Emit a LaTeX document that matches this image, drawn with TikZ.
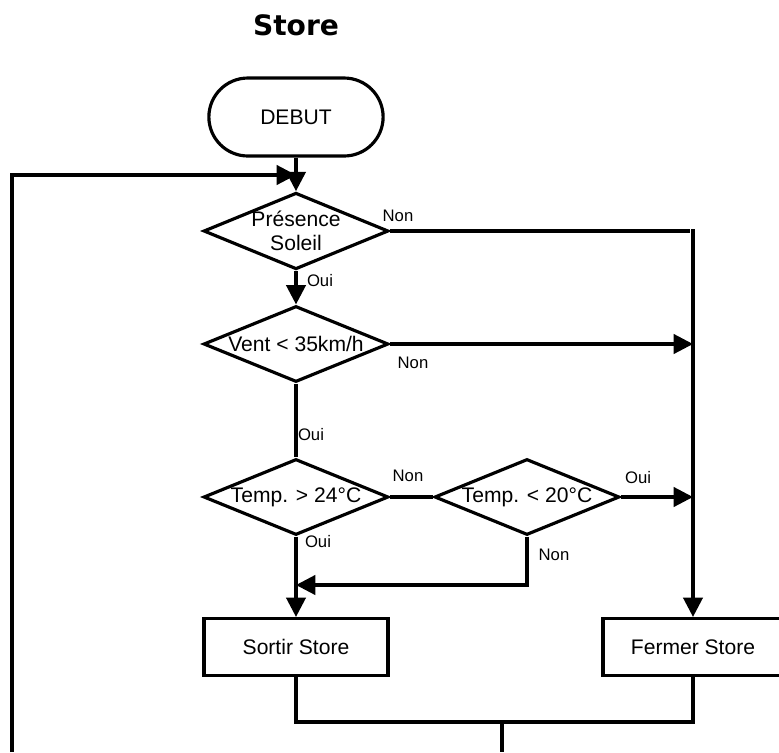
\documentclass[tikz,border=0pt]{standalone}
\usepackage{fontspec}
\usepackage{tikz}
\usetikzlibrary{arrows.meta,shapes.geometric,shapes.misc,positioning}
\setmainfont{Liberation Sans}
\newfontfamily\titlefont{DejaVu Sans}
\newcommand{\mainfs}{\fontsize{12}{13.5}\selectfont}
\newcommand{\lblfs}{\fontsize{9.5}{11}\selectfont}

\begin{document}
\begin{tikzpicture}[x=0.02cm, y=-0.02cm,
    wire/.style={line width=1.8pt},
    arr/.style={wire, -{Triangle[length=11pt,width=11pt]}},
    term/.style={rounded rectangle, draw, line width=1.8pt, minimum width=3.72cm, minimum height=1.56cm, font=\mainfs},
    test/.style={diamond, draw, line width=1.8pt, shape aspect=2.4, inner sep=0pt, minimum width=3.7cm, minimum height=1.52cm, align=center, font=\mainfs},
    act/.style={rectangle, draw, line width=1.8pt, minimum width=3.68cm, minimum height=1.14cm, font=\mainfs},
    lbl/.style={font=\lblfs}
]
    \useasboundingbox (0,0) rectangle (779,752);

    % Title
    \node[font={\titlefont\bfseries\fontsize{16}{18}\selectfont}] (title) at (296,25) {Store};

    % Steps and tests
    \node[term] (debut) at (296,117) {DEBUT};
    \node[test] (soleil) at (296,231) {Présence\\Soleil};
    \node[test] (vent) at (296,344) {Vent < 35km/h};
    \node[test] (chaud) at (296,497) {Temp. > 24°C};
    \node[test] (froid) at (527,497) {Temp. < 20°C};
    \node[act] (sortir) at (296,647) {Sortir Store};
    \node[act, minimum width=3.6cm] (fermer) at (693,647) {Fermer Store};

    % Corner points
    \coordinate (loopB) at (12,752);
    \coordinate (loopT) at (12,175);
    \coordinate (nonEnd) at (690,231);
    \coordinate (rail) at (693,229);
    \coordinate (retour) at (527,585);
    \coordinate (joint) at (502,722);
    \coordinate (fin) at (502,752);

    % Main column
    \draw[arr] (debut.south) -- (soleil.north);
    \draw[arr] (loopB) -- (loopT) -- (loopT -| debut.south);
    \draw[arr] (soleil.south) -- (vent.north);
    \draw[wire] (vent.south) -- (chaud.north);
    \draw[arr] (chaud.south) -- (sortir.north);

    % Right rail to Fermer Store
    \draw[wire] (soleil.east) -- (nonEnd);
    \draw[arr] (rail) -- (fermer.north);
    \draw[arr] (vent.east) -- (vent.east -| rail);
    \draw[wire] (chaud.east) -- (froid.west);
    \draw[arr] (froid.east) -- (froid.east -| rail);
    \draw[arr] (froid.south) -- (retour) -- (retour -| chaud.south);

    % Back to the loop
    \draw[wire] (sortir.south) |- (joint) -| (fermer.south);
    \draw[wire] (joint) -- (fin);

    % Labels
    \node[lbl] (non1) at (398,216) {Non};
    \node[lbl] (oui1) at (320,281) {Oui};
    \node[lbl] (non2) at (413,363) {Non};
    \node[lbl] (oui2) at (311,435) {Oui};
    \node[lbl] (non3) at (408,476) {Non};
    \node[lbl] (oui3) at (638,478) {Oui};
    \node[lbl] (non4) at (554,555) {Non};
    \node[lbl] (oui4) at (318,542) {Oui};

\end{tikzpicture}
\end{document}
